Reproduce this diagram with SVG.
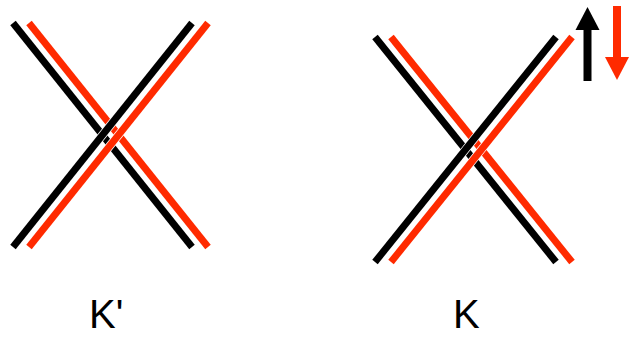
<svg xmlns="http://www.w3.org/2000/svg" width="629" height="340" viewBox="0 0 629 340">
<style>
.b{stroke:#000;stroke-width:7;fill:none}
.r{stroke:#ff2a00;stroke-width:7;fill:none}
.h{stroke:#fff;stroke-width:8.5;fill:none}
.lbl{font-family:"Liberation Sans",Arial,sans-serif;font-size:40px;fill:#000}
</style>
<rect width="629" height="340" fill="#fff"/>
<g id="kprime">
<line class="h" x1="29" y1="23" x2="208" y2="247"/>
<line class="r" x1="29" y1="23" x2="208" y2="247"/>
<line class="h" x1="13" y1="23" x2="192" y2="247"/>
<line class="b" x1="13" y1="23" x2="192" y2="247"/>
<line class="h" x1="13" y1="247" x2="192" y2="23"/>
<line class="b" x1="13" y1="247" x2="192" y2="23"/>
<line class="h" x1="29" y1="247" x2="208" y2="23"/>
<line class="r" x1="29" y1="247" x2="208" y2="23"/>
<text class="lbl" x="89" y="328">K'</text>
</g>
<g id="k">
<line class="h" x1="391" y1="37" x2="572" y2="262"/>
<line class="r" x1="391" y1="37" x2="572" y2="262"/>
<line class="h" x1="375" y1="37" x2="556" y2="262"/>
<line class="b" x1="375" y1="37" x2="556" y2="262"/>
<line class="h" x1="375" y1="262" x2="556" y2="37"/>
<line class="b" x1="375" y1="262" x2="556" y2="37"/>
<line class="h" x1="391" y1="262" x2="572" y2="37"/>
<line class="r" x1="391" y1="262" x2="572" y2="37"/>
<text class="lbl" x="453" y="328">K</text>
</g>
<g id="arrows">
<line x1="587.5" y1="81" x2="587.5" y2="28" stroke="#000" stroke-width="8"/>
<polygon points="587.5,7 599.5,30 575.5,30" fill="#000"/>
<line x1="617" y1="6" x2="617" y2="59" stroke="#ff2a00" stroke-width="8"/>
<polygon points="617,80 629,57 605,57" fill="#ff2a00"/>
</g>
</svg>
